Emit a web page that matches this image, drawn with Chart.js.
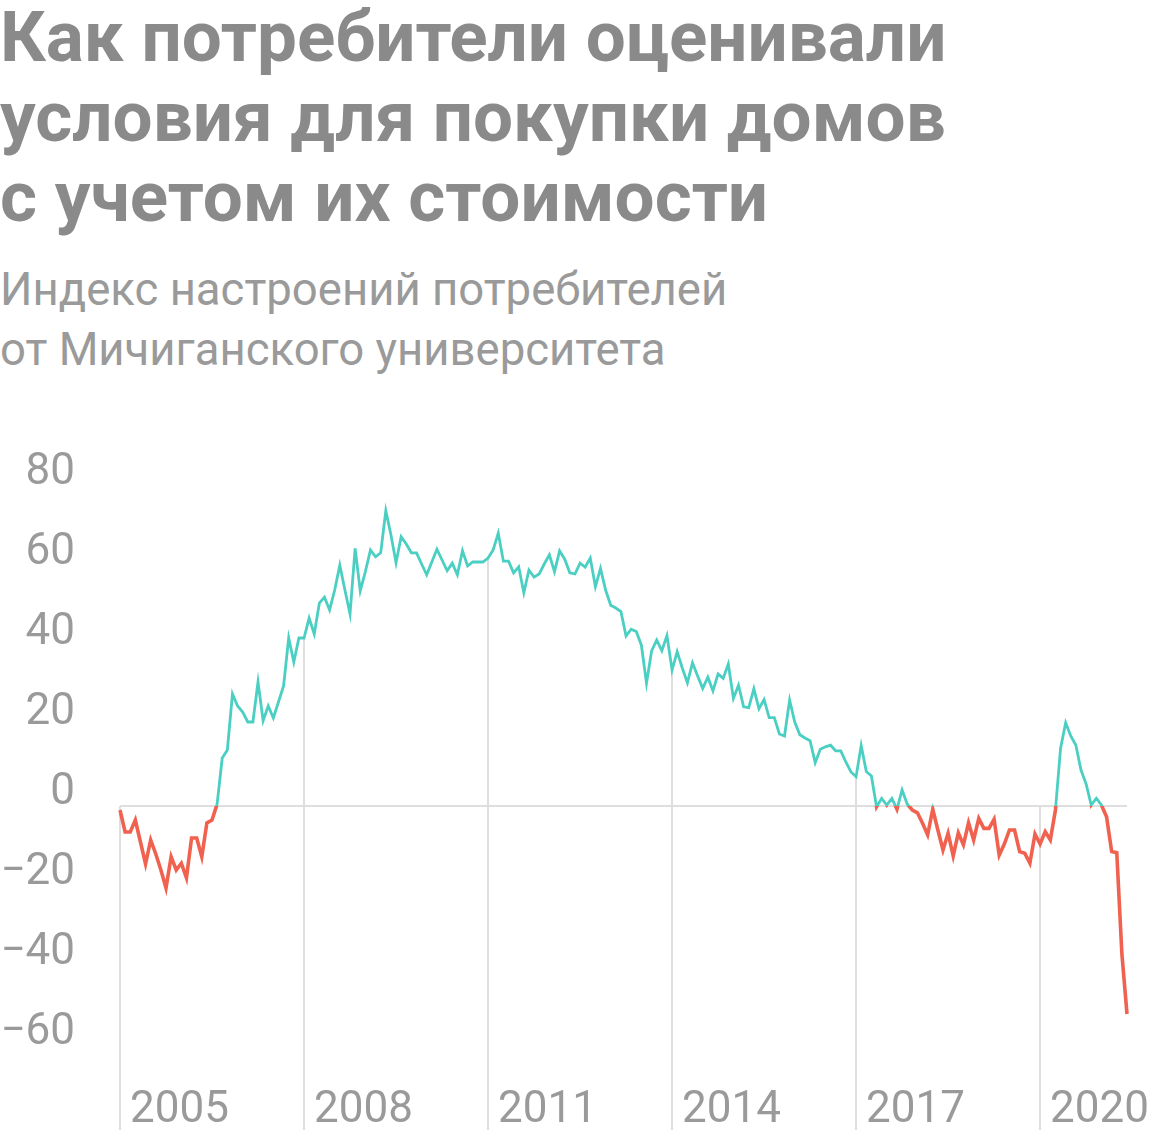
<!DOCTYPE html>
<html lang="ru">
<head>
<meta charset="utf-8">
<title>Условия для покупки домов</title>
<script src="https://cdn.jsdelivr.net/npm/chart.js@4.4.1/dist/chart.umd.min.js"></script>
<style>
  html, body { margin: 0; padding: 0; background: #fff; }
  body { width: 1160px; height: 1144px; position: relative; overflow: hidden; font-family: Roboto, "Noto Sans", sans-serif; }
  .title { position: absolute; left: 0; top: -3px; font-size: 71px; font-weight: 700; line-height: 80px; color: #8a8a8a; }
  .subtitle { position: absolute; left: 0; top: 260px; font-size: 45.5px; font-weight: 400; line-height: 60px; color: #9a9a9a; }
  .chart-box { position: absolute; left: 0; top: 400px; width: 1160px; height: 744px; }
</style>
</head>
<body>
<div class="title">Как потребители оценивали<br>условия для покупки домов<br>с учетом их стоимости</div>
<div class="subtitle">Индекс настроений потребителей<br>от Мичиганского университета</div>
<div class="chart-box"><canvas id="homeChart" width="1160" height="744"></canvas></div>

<script>
// monthly values, Jan 2005 .. Jun 2021
const startYear = 2005;
const yearLabels = ['2005', '2008', '2011', '2014', '2017', '2020'];
const yTickValues = [-60, -40, -20, 0, 20, 40, 60, 80];
const sentiment = [
    -1, -6.5, -6.5, -3.5, -9, -14.5, -8.5, -12, -16, -20.5, -12.7, -16,
    -14.3, -18, -8, -8, -12.7, -4.2, -3.5, 0.5, 12, 14, 28, 25,
    23.5, 21, 21, 31, 21.3, 25, 22, 26, 30, 42, 36, 42,
    42, 47, 43, 50.7, 52.2, 49, 54, 60.2, 54, 48, 64.4, 53.8,
    58.6, 64, 62.3, 63.3, 73.8, 67.8, 60.8, 67.3, 65.5, 63.3, 63.3, 60.5,
    57.8, 61, 64.2, 61.5, 58.8, 60.7, 57.8, 63.8, 60, 61, 61, 61,
    62, 64, 68.2, 61.2, 61.2, 58.3, 59.8, 53.3, 59, 57.2, 58, 60.5,
    62.8, 58.6, 63.8, 61.7, 58.3, 58, 60.7, 59.7, 62, 54.8, 59.4, 54,
    50.2, 49.5, 48.6, 42.5, 44.2, 43.6, 40.2, 30.7, 38.8, 41.5, 38.8, 42.6,
    34, 38.6, 34.5, 30.8, 35.8, 32.5, 29.4, 32.2, 28.8, 33, 31.9, 35.5,
    26.9, 30.2, 24.8, 24.6, 29.3, 24.3, 26.6, 22.1, 22.1, 18, 17.5, 26.5,
    21, 17.8, 17, 16.3, 10.8, 14.2, 14.8, 15.2, 13.8, 13.8, 11, 8.5,
    7.3, 15.1, 8.6, 7.5, -0.2, 1.9, 0.25, 1.9, -0.8, 4, 0.5, -1,
    -1.7, -4.3, -7.2, -0.8, -6, -11, -6.8, -12.5, -6.7, -9.7, -4.2, -8.5,
    -3.1, -5.6, -5.6, -3.3, -12.3, -9.5, -6, -6, -11.4, -11.8, -14.3, -7,
    -9.5, -6.4, -8.5, -1, 14.4, 20.8, 17.5, 15.2, 9, 5.5, 0.25, 1.9,
    0.25, -2.7, -11.4, -11.7, -37, -52
];

const points = sentiment.map((v, i) => ({ x: i, y: v }));
const yearIndex = yearLabels.map(y => (parseInt(y) - startYear) * 12);

// grey year lines from the curve (or the zero line) down, year labels inside the plot
const yearLines = {
    id: 'yearLines',
    beforeDatasetsDraw(chart) {
        const { ctx, chartArea, scales: { x, y } } = chart;
        ctx.save();
        ctx.strokeStyle = '#dedede';
        ctx.lineWidth = 2;
        yearIndex.forEach(i => {
            const px = Math.round(x.getPixelForValue(i));
            const top = y.getPixelForValue(Math.max(sentiment[i], 0));
            ctx.beginPath();
            ctx.moveTo(px, top);
            ctx.lineTo(px, chartArea.bottom);
            ctx.stroke();
        });
        ctx.restore();
    },
    afterDraw(chart) {
        const { ctx, chartArea, scales: { x } } = chart;
        ctx.save();
        ctx.fillStyle = '#9a9a9a';
        ctx.font = '44px Roboto';
        ctx.textAlign = 'left';
        ctx.textBaseline = 'middle';
        yearIndex.forEach((i, k) => {
            ctx.fillText(yearLabels[k], x.getPixelForValue(i) + 10, chartArea.bottom - 19);
        });
        ctx.restore();
    }
};

// dataset 0 only above zero, dataset 1 only below
const splitAtZero = {
    id: 'splitAtZero',
    beforeDatasetDraw(chart, args) {
        const { ctx, width, height, scales: { y } } = chart;
        const zero = y.getPixelForValue(0);
        ctx.save();
        ctx.beginPath();
        if (args.index === 0) ctx.rect(0, 0, width, zero);
        else ctx.rect(0, zero, width, height - zero);
        ctx.clip();
    },
    afterDatasetDraw(chart) {
        chart.ctx.restore();
    }
};

const ctx = document.getElementById('homeChart').getContext('2d');
const homeChart = new Chart(ctx, {
    type: 'line',
    data: {
        datasets: [{
            data: points,
            borderColor: '#4acfc2',
            borderWidth: 2.8,
            pointRadius: 0,
            tension: 0,
            clip: false
        }, {
            data: points,
            borderColor: '#f0624f',
            borderWidth: 3.6,
            pointRadius: 0,
            tension: 0,
            clip: false
        }]
    },
    options: {
        responsive: false,
        animation: false,
        devicePixelRatio: 1,
        layout: { padding: { top: 86, right: 33, left: 0, bottom: 14 } },
        plugins: {
            legend: { display: false },
            tooltip: { enabled: false }
        },
        scales: {
            x: {
                type: 'linear',
                display: false,
                min: 0,
                max: sentiment.length - 1
            },
            y: {
                min: -81,
                max: 80,
                grid: {
                    drawTicks: false,
                    lineWidth: 2,
                    color: c => (c.tick && c.tick.value === 0) ? '#dedede' : 'rgba(0,0,0,0)'
                },
                border: { display: false },
                afterBuildTicks: scale => { scale.ticks = yTickValues.map(v => ({ value: v })); },
                afterFit: scale => {
                    scale.width = 120;
                    scale.paddingTop = 0;
                    scale.paddingBottom = 0;
                },
                ticks: {
                    padding: 45,
                    labelOffset: -13,
                    color: '#9a9a9a',
                    font: { family: 'Roboto', size: 44 },
                    callback: value => value < 0 ? '\u2212' + Math.abs(value) : String(value)
                }
            }
        }
    },
    plugins: [yearLines, splitAtZero]
});
</script>
</body>
</html>
